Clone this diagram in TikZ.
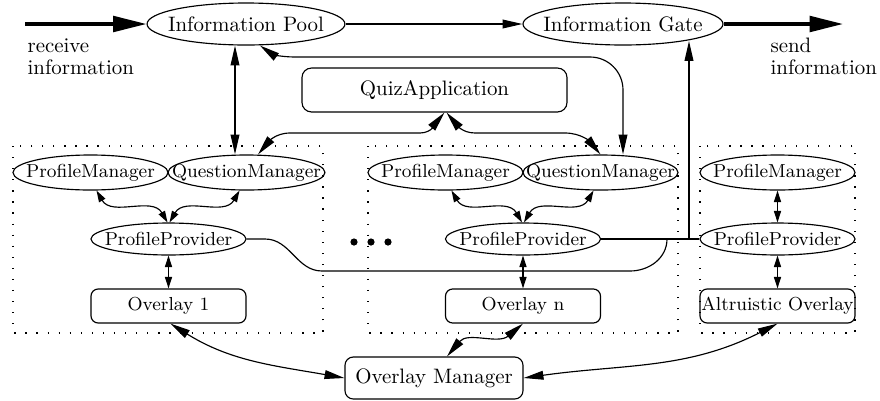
\documentclass[tikz,border=0pt]{standalone}
\usetikzlibrary{shapes.geometric,arrows.meta,calc}
\newcommand{\zbox}[1]{\makebox[0pt]{#1}}
\begin{document}
\begin{tikzpicture}[x=0.4785pt,y=0.4785pt, line width=0.55pt,
  ell/.style={draw, ellipse, inner sep=0pt, minimum width=74.2pt, minimum height=16.75pt, font=\small},
  bigell/.style={draw, ellipse, inner sep=0pt, minimum height=20.1pt},
  rbox/.style={draw, rounded corners=3.5pt, inner sep=0pt, minimum width=74.2pt, minimum height=16.3pt, font=\small},
  cluster/.style={draw, line width=0.6pt, dash pattern=on 0.6pt off 4.7pt},
  bb/.style={{Triangle[length=9.5pt,width=4.2pt]}-{Triangle[length=9.5pt,width=4.2pt]}},
  be/.style={-{Triangle[length=9.5pt,width=4.2pt]}},
  ss/.style={{Triangle[length=5.5pt,width=3.4pt]}-{Triangle[length=5.5pt,width=3.4pt]}},
  te/.style={line width=1.6pt,-{Triangle[length=16pt,width=7.5pt]}},
  lbl/.style={anchor=base west, inner sep=0pt},
]
\useasboundingbox (0,0) rectangle (880,400);

% clusters
\draw[cluster] (13,254) rectangle (323,67);
\draw[cluster] (368,254) rectangle (678,67);
\draw[cluster] (700,254) rectangle (855,67);

% top nodes
\node[bigell, minimum width=94.7pt] (ip) at (246,376) {\zbox{Information Pool}};
\node[bigell, minimum width=95.7pt] (ig) at (623,376) {\zbox{Information Gate}};
\node[draw, rounded corners=4.5pt, minimum width=126.8pt, minimum height=21pt, inner sep=0pt] (qa) at (434.5,310) {QuizApplication};
\node[draw, rounded corners=4pt, minimum width=85.2pt, minimum height=20.1pt, inner sep=0pt] (om) at (434,22) {Overlay Manager};

% left cluster
\node[ell] (pm1) at (90.5,227.5) {\zbox{ProfileManager}};
\node[ell, minimum width=75.1pt] (qm1) at (246.5,227.5) {\zbox{QuestionManager}};
\node[ell, minimum height=15.3pt] (pp1) at (168.5,161) {\zbox{ProfileProvider}};
\node[rbox] (ov1) at (168.5,94) {Overlay 1};

% middle cluster
\node[ell] (pm2) at (445.5,227.5) {\zbox{ProfileManager}};
\node[ell] (qm2) at (600.5,227.5) {\zbox{QuestionManager}};
\node[ell, minimum height=15.3pt] (pp2) at (523,161) {\zbox{ProfileProvider}};
\node[rbox] (ovn) at (523,94) {Overlay n};

% right cluster
\node[ell] (pm3) at (777.5,227.5) {\zbox{ProfileManager}};
\node[ell, minimum height=15.3pt] (pp3) at (777.5,161) {\zbox{ProfileProvider}};
\node[rbox] (alt) at (777.5,94) {Altruistic Overlay};

% dots
\fill (354,158) circle[radius=3.6];
\fill (371,158) circle[radius=3.6];
\fill (388,158) circle[radius=3.6];

% labels
\node[lbl] (rcv) at (27,348) {\begin{tabular}[t]{@{}l@{}}receive\\[-1pt] information\end{tabular}};
\node[lbl] (snd) at (770,348) {\begin{tabular}[t]{@{}l@{}}send\\[-1pt] information\end{tabular}};

% in/out
\coordinate (inS) at (25,376);
\coordinate (outE) at (843,376);
\draw[te] (inS) -- (ip.west);
\draw[te] (ig.east) -- (outE);
\draw[be] (ip.east) -- (ig.west);

% pool links
\draw[bb] ($(ip.south)+(-11,0)$) -- ($(qm1.north)+(-11.5,0)$);
\draw[bb] ($(ip.south)+(14,0)$) to[out=-35,in=180] (295,343) -- (590,343) to[out=0,in=90] (623,310) -- ($(qm2.north)+(22.5,0)$);

% quiz application links
\draw[bb] ($(qm1.north)+(11.5,0)$) to[out=50,in=180] (290,267) -- (420,267) to[out=0,in=-130] ($(qa.south)+(10,0)$);
\draw[bb] ($(qa.south)+(12,0)$) to[out=-50,in=180] (475,267) -- (565,267) to[out=0,in=130] (qm2.north);

% profile provider network
\coordinate (jn) at (689,161);
\draw (pp1.east) -- (265,161) to[out=0,in=180] (322,129) -- (630,129) to[out=0,in=-90] (667,161);
\draw (pp2.east) -- (pp3.west);
\draw[be] (jn) -- ($(ig.center)+(66,-17)$);

% inside clusters
\draw[ss] ($(pm1.south)+(6,0)$) to[out=-60,in=120] ($(pp1.north)+(-1,0)$);
\draw[ss] ($(qm1.south)+(-7,0)$) to[out=-120,in=60] ($(pp1.north)+(1,0)$);
\draw[ss] ($(pm2.south)+(6,0)$) to[out=-60,in=120] ($(pp2.north)+(-1,0)$);
\draw[ss] ($(qm2.south)+(-7,0)$) to[out=-120,in=60] ($(pp2.north)+(1,0)$);
\draw[ss] (pm3.south) -- (pp3.north);
\draw[ss] (pp1.south) -- (ov1.north);
\draw[ss] (pp2.south) -- (ovn.north);
\draw[ss] (pp3.south) -- (alt.north);

% overlay manager links
\draw[bb] ($(ov1.south)+(2,0)$) to[out=-32,in=170] (om.west);
\draw[bb] (ovn.south) to[out=-140,in=50] ($(om.north)+(13,0)$);
\draw[bb] (alt.south) to[out=-153,in=8] (om.east);
\end{tikzpicture}
\end{document}
